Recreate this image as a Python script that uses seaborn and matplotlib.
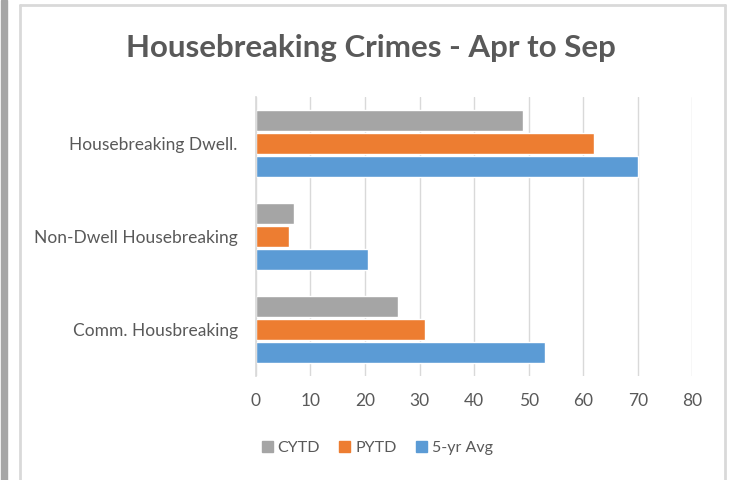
import pandas as pd
import seaborn as sns
import matplotlib.pyplot as plt
from matplotlib.lines import Line2D
from matplotlib.patches import Rectangle

# chart data
categories = ['Housebreaking Dwell.', 'Non-Dwell Housebreaking', 'Comm. Housbreaking']
series = ['CYTD', 'PYTD', '5-yr Avg']
cytd = [49, 7, 26]
pytd = [62, 6, 31]
avg5 = [70, 20.5, 53]
colors = ['#a5a5a5', '#ed7d31', '#5b9bd5']

df = pd.DataFrame({
    'category': categories * 3,
    'series': [s for s in series for _ in categories],
    'value': cytd + pytd + avg5,
})

sns.set_theme(style='white')
plt.rcParams['font.family'] = ['Lato', 'DejaVu Sans']

fig = plt.figure(figsize=(7.31, 4.80), dpi=100)
ax = fig.add_axes([0.350, 0.217, 0.597, 0.581])

sns.barplot(data=df, x='value', y='category', hue='series', order=categories,
            hue_order=series, palette=colors, width=0.75, gap=0.1,
            saturation=1, ax=ax, legend=False)

ax.set_xlim(0, 80)
ax.set_xticks(range(0, 81, 10))
ax.grid(axis='x', color='#d9d9d9', linewidth=1)
ax.set_axisbelow(True)
for side in ['top', 'right', 'bottom']:
    ax.spines[side].set_visible(False)
ax.spines['left'].set_color('#d9d9d9')
ax.tick_params(axis='both', length=0, labelsize=12.5, labelcolor='#595959')
ax.tick_params(axis='x', pad=12)
ax.tick_params(axis='y', pad=13)
ax.set_xlabel('')
ax.set_ylabel('')

fig.suptitle('Housebreaking Crimes - Apr to Sep', x=0.508, y=0.93,
             fontsize=22.5, fontweight='bold', color='#595959')

handles = [Rectangle((0, 0), 1, 1, color=c) for c in colors]
fig.legend(handles, series, loc='center', bbox_to_anchor=(0.516, 0.067), ncol=3,
           frameon=False, fontsize=11.5, labelcolor='#595959',
           handlelength=0.7, handleheight=0.7, handletextpad=0.3,
           columnspacing=1.2)

# outer frame like the source screenshot
fig.patches.append(Rectangle((1 / 731, 0), 6 / 731, 1, transform=fig.transFigure,
                             color='#a6a6a6', zorder=0))
fig.lines.append(Line2D([20 / 731, 20 / 731], [0, 1 - 5 / 480], transform=fig.transFigure,
                        color='#d9d9d9', linewidth=2))
fig.lines.append(Line2D([20 / 731, 725 / 731], [1 - 5 / 480, 1 - 5 / 480],
                        transform=fig.transFigure, color='#d9d9d9', linewidth=2))
fig.lines.append(Line2D([725 / 731, 725 / 731], [0, 1 - 5 / 480], transform=fig.transFigure,
                        color='#d9d9d9', linewidth=2))

fig.savefig('out.png', dpi=100)
